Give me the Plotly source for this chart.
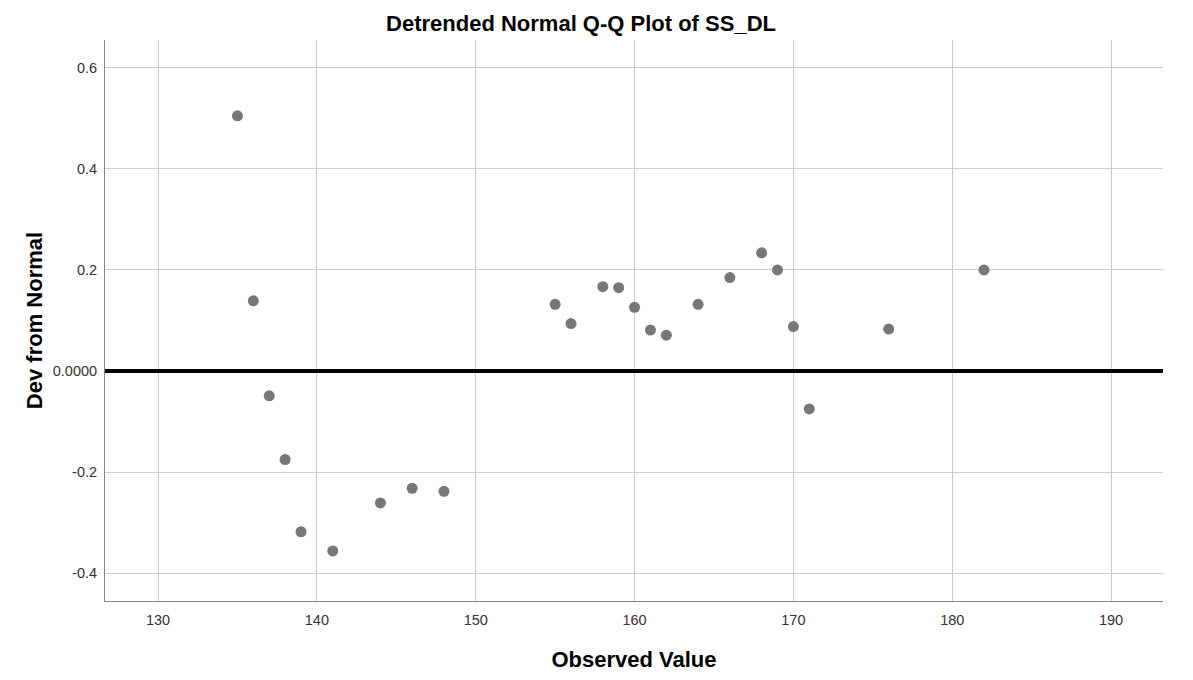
import plotly.graph_objects as go

observed = [135, 136, 137, 138, 139, 141, 144, 146, 148, 155, 156, 158, 159, 160,
            161, 162, 164, 166, 168, 169, 170, 171, 176, 182]
deviation = [0.505, 0.139, -0.049, -0.175, -0.318, -0.356, -0.261, -0.232, -0.238,
             0.132, 0.094, 0.167, 0.165, 0.126, 0.081, 0.071, 0.132, 0.185, 0.234,
             0.200, 0.088, -0.075, 0.083, 0.200]

x_ticks = [130, 140, 150, 160, 170, 180, 190]
y_ticks = [0.6, 0.4, 0.2, 0.0, -0.2, -0.4]
y_tick_labels = ["0.6", "0.4", "0.2", "0.0000", "-0.2", "-0.4"]

FONT = "Liberation Sans, Arial, sans-serif"
W, H = 1185, 672
L, R, T, B = 97, 30, 32, 75

fig = go.Figure()
fig.add_trace(go.Scatter(
    x=observed, y=deviation, mode="markers",
    marker=dict(size=11, color="#777777", line=dict(width=0)),
    showlegend=False, hoverinfo="x+y",
))

fig.add_hline(y=0, line=dict(color="black", width=4), layer="above")

fig.update_layout(
    width=W, height=H,
    paper_bgcolor="white", plot_bgcolor="white",
    margin=dict(l=L, r=R, t=T, b=B),
    font=dict(family=FONT, color="black"),
    title=dict(text="<b>Detrended Normal Q-Q Plot of SS_DL</b>", x=573/W, xanchor="center",
               y=1-15/H, yanchor="middle", font=dict(size=22, family=FONT)),
)

fig.update_xaxes(
    range=[126.66, 193.27], tickvals=x_ticks, ticks="",
    showgrid=True, gridcolor="#cccccc", gridwidth=1,
    showline=True, linecolor="#888888", linewidth=1, mirror=False,
    zeroline=False, tickfont=dict(size=14.5, color="#333333"),
    ticklabelstandoff=6,
    title=dict(text="<b>Observed Value</b>", font=dict(size=22), standoff=24),
)
fig.update_yaxes(
    range=[-0.455, 0.655], tickvals=y_ticks, ticktext=y_tick_labels, ticks="",
    showgrid=True, gridcolor="#cccccc", gridwidth=1,
    showline=True, linecolor="#888888", linewidth=1, mirror=False,
    zeroline=False, tickfont=dict(size=14.5, color="#333333"),
    ticklabelstandoff=4,
    title=dict(text="<b>Dev from Normal</b>", font=dict(size=22), standoff=4),
)

fig.write_html("out.html")
